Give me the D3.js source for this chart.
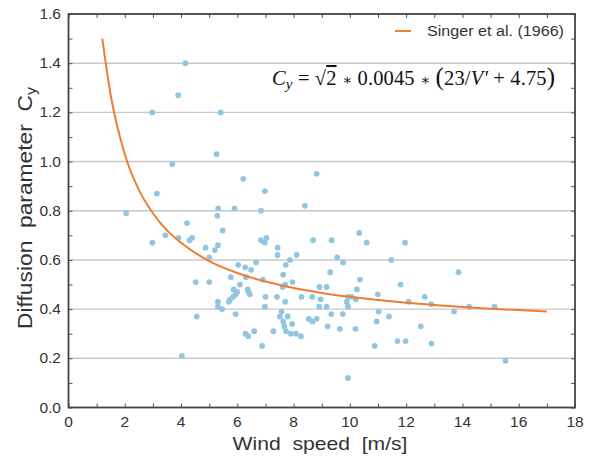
<!DOCTYPE html>
<html><head><meta charset="utf-8">
<script src="https://cdn.jsdelivr.net/npm/d3@7"></script>
<style>body{margin:0;background:#fff}svg{display:block}</style>
</head><body>
<script>
// Observed wind speed [m/s]
const windSpeed = [4.15,3.90,2.98,5.41,5.26,3.69,6.21,6.98,8.82,3.14,2.05,5.32,5.90,5.29,6.84,8.40,4.21,5.48,2.98,3.44,3.91,4.30,4.39,4.87,5.20,5.31,5.00,6.84,6.97,7.04,7.43,7.43,7.87,8.11,8.69,6.67,6.03,6.28,6.49,6.31,5.77,4.52,5.00,6.09,6.91,7.63,7.70,7.96,7.61,5.87,5.99,5.94,5.85,5.74,5.70,6.37,6.40,6.44,5.31,5.31,5.46,4.56,5.94,7.00,6.98,7.41,7.70,8.28,8.66,8.96,8.92,9.17,8.91,9.17,7.57,7.51,7.79,7.63,7.67,7.95,7.73,7.90,8.08,8.26,7.28,6.60,6.29,6.39,6.88,4.03,8.54,8.67,8.82,9.21,9.34,9.35,10.33,10.60,11.96,9.55,9.76,11.47,9.30,10.36,13.86,10.25,11.80,9.94,10.06,9.89,10.21,10.99,12.66,12.09,12.89,14.24,15.14,13.70,9.93,9.75,11.02,11.39,10.95,9.64,10.20,12.52,10.88,11.69,11.98,12.90,15.53,9.93,7.72];
// Observed diffusion parameter Cy
const diffusionCy = [1.40,1.27,1.20,1.20,1.03,0.99,0.93,0.88,0.95,0.87,0.79,0.81,0.81,0.78,0.80,0.82,0.75,0.72,0.67,0.70,0.69,0.68,0.69,0.65,0.64,0.66,0.61,0.68,0.67,0.69,0.65,0.62,0.60,0.62,0.68,0.59,0.58,0.57,0.56,0.53,0.53,0.51,0.51,0.50,0.52,0.54,0.50,0.51,0.49,0.48,0.47,0.46,0.45,0.44,0.43,0.48,0.47,0.46,0.43,0.41,0.40,0.37,0.38,0.45,0.41,0.45,0.43,0.45,0.45,0.44,0.49,0.49,0.41,0.41,0.39,0.37,0.37,0.35,0.33,0.34,0.31,0.30,0.30,0.29,0.31,0.31,0.30,0.29,0.25,0.21,0.36,0.35,0.36,0.33,0.38,0.68,0.71,0.67,0.67,0.61,0.59,0.60,0.55,0.52,0.55,0.48,0.50,0.45,0.45,0.43,0.44,0.46,0.45,0.43,0.42,0.41,0.41,0.39,0.41,0.38,0.39,0.37,0.35,0.32,0.32,0.33,0.25,0.27,0.27,0.26,0.19,0.12,0.58];
// Singer et al. (1966) curve
const singerV  = [1.2,1.5,2,2.5,3,3.5,4,5,6,7,8,9,10,11,12,13,14,15,16,17];
const singerCy = [1.50,1.27,1.03,0.885,0.79,0.72,0.67,0.595,0.547,0.512,0.486,0.466,0.45,0.437,0.426,0.417,0.409,0.402,0.396,0.39];
const xTicks = [0,2,4,6,8,10,12,14,16,18];
const yTicks = [0,0.2,0.4,0.6,0.8,1.0,1.2,1.4,1.6];
const legendLabel = "Singer et al. (1966)";

const W = 597, H = 460;
const svg = d3.select("body").append("svg").attr("width", W).attr("height", H);
const x = d3.scaleLinear().domain([0,18]).range([68.5,575]);
const y = d3.scaleLinear().domain([0,1.6]).range([407.5,14]);
const font = "'Liberation Sans', Arial, sans-serif";

// grid
svg.append("g").selectAll("line").data(yTicks.filter(d => d > 0 && d < 1.6)).join("line")
  .attr("x1", x(0)).attr("x2", x(18)).attr("y1", d => y(d)).attr("y2", d => y(d))
  .attr("stroke", "#c8c8c8").attr("stroke-width", 1.4);

// axes with inward ticks (bottom/left labelled, top/right mirrored)
const xMinor = d3.range(0, 18.01, 1);
const yMinor = d3.range(0, 1.601, 0.1);
function styleAxis(g){ g.select(".domain").remove(); g.selectAll("line").attr("stroke","#555").attr("stroke-width",1); }
svg.append("g").attr("transform", `translate(0,${y(0)})`)
  .call(d3.axisBottom(x).tickValues(xMinor).tickSize(-4).tickFormat(""))
  .call(styleAxis);
svg.append("g").attr("transform", `translate(0,${y(1.6)})`)
  .call(d3.axisTop(x).tickValues(xMinor).tickSize(-4).tickFormat(""))
  .call(styleAxis);
svg.append("g").attr("transform", `translate(${x(0)},0)`)
  .call(d3.axisLeft(y).tickValues(yMinor).tickSize(-4).tickFormat(""))
  .call(styleAxis);
svg.append("g").attr("transform", `translate(${x(18)},0)`)
  .call(d3.axisRight(y).tickValues(yMinor).tickSize(-4).tickFormat(""))
  .call(styleAxis);

// tick labels
svg.append("g").selectAll("text").data(xTicks).join("text")
  .attr("x", d => x(d)).attr("y", 427).attr("text-anchor","middle")
  .attr("font-family", font).attr("font-size", 15.5).attr("fill","#333")
  .text(d => d);
svg.append("g").selectAll("text").data(yTicks).join("text")
  .attr("x", 61).attr("y", d => y(d) + 5).attr("text-anchor","end")
  .attr("font-family", font).attr("font-size", 15.5).attr("fill","#333")
  .text(d => d3.format(".1f")(d));

// frame
svg.append("rect").attr("x", x(0)).attr("y", y(1.6)).attr("width", x(18)-x(0)).attr("height", y(0)-y(1.6))
  .attr("fill","none").attr("stroke","#444").attr("stroke-width",1.8);

// points
const pts = windSpeed.map((v,i) => ({v, c: diffusionCy[i]}));
svg.append("g").selectAll("circle").data(pts).join("circle")
  .attr("cx", d => x(d.v)).attr("cy", d => y(d.c)).attr("r", 2.9)
  .attr("fill", "#92c6e0");

// curve
const curvePts = singerV.map((v,i) => [v, singerCy[i]]);
svg.append("path").datum(curvePts)
  .attr("d", d3.line().x(d => x(d[0])).y(d => y(d[1])).curve(d3.curveMonotoneX))
  .attr("fill","none").attr("stroke","#ee7d31").attr("stroke-width",2);

// legend
svg.append("line").attr("x1",395).attr("x2",411).attr("y1",31).attr("y2",31)
  .attr("stroke","#ee7d31").attr("stroke-width",2);
svg.append("text").attr("x",427).attr("y",36).attr("font-family",font).attr("font-size",14)
  .attr("fill","#333").attr("textLength",137).attr("lengthAdjust","spacingAndGlyphs").text(legendLabel);

// formula
const serif = "'Liberation Serif', 'DejaVu Serif', serif";
const f = svg.append("text").attr("x",272).attr("y",85).attr("font-family",serif).attr("font-size",20.5).attr("fill","#111")
  .attr("textLength",283).attr("lengthAdjust","spacing");
f.append("tspan").attr("font-style","italic").text("C");
f.append("tspan").attr("font-style","italic").attr("font-size",15).attr("dy",4).text("y");
f.append("tspan").attr("dy",-4).text(" = √");
f.append("tspan").attr("text-decoration","overline").text("2");
f.append("tspan").text(" ");
f.append("tspan").attr("font-size",15).text("∗");
f.append("tspan").text(" 0.0045 ");
f.append("tspan").attr("font-size",15).text("∗");
f.append("tspan").text(" ");
f.append("tspan").attr("font-size",25).text("(");
f.append("tspan").text("23/");
f.append("tspan").attr("font-style","italic").text("V′");
f.append("tspan").text(" + 4.75");
f.append("tspan").attr("font-size",25).text(")");

// axis titles
svg.append("text").attr("x", 320).attr("y", 450).attr("text-anchor","middle")
  .attr("font-family",font).attr("font-size",19).attr("fill","#333")
  .attr("textLength",175).attr("lengthAdjust","spacingAndGlyphs")
  .attr("xml:space","preserve").text("Wind  speed  [m/s]");
const yl = svg.append("text").attr("transform","translate(32,208) rotate(-90)").attr("text-anchor","middle")
  .attr("font-family",font).attr("font-size",20).attr("fill","#333").attr("xml:space","preserve")
  .attr("textLength",242).attr("lengthAdjust","spacingAndGlyphs");
yl.append("tspan").text("Diffusion  parameter  C");
yl.append("tspan").attr("font-size",14).attr("dy",4).text("y");
</script>
</body></html>
